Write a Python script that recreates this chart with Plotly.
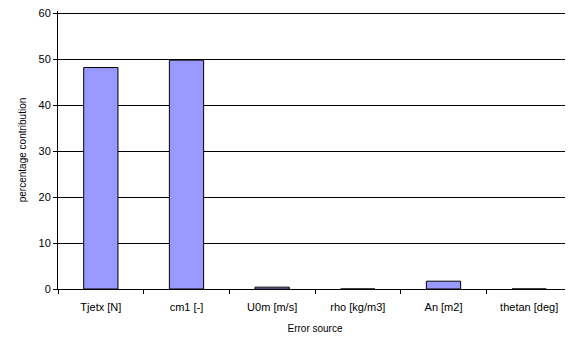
import plotly.graph_objects as go

categories = ["Tjetx [N]", "cm1 [-]", "U0m [m/s]", "rho [kg/m3]", "An [m2]", "thetan [deg]"]
values = [48.2, 49.8, 0.4, 0.0, 1.7, 0.0]
y_ticks = [0, 10, 20, 30, 40, 50, 60]

fig = go.Figure()
fig.add_trace(go.Bar(
    x=categories, y=values,
    marker=dict(color="#9999FF", line=dict(color="black", width=1)),
    width=0.4,
))

font = dict(family="Liberation Sans, Arial, sans-serif", size=11, color="black")
fig.update_layout(
    width=565, height=329,
    margin=dict(l=50, r=1, t=3, b=48),
    paper_bgcolor="white", plot_bgcolor="white",
    font=font,
    showlegend=False,
    xaxis=dict(
        title=dict(text="Error source", font=dict(size=10), standoff=12),
        showline=True, linecolor="black", linewidth=1,
        ticks="outside", tickson="boundaries", ticklen=4, tickcolor="black",
        ticklabelstandoff=8,
        showgrid=False, automargin=False,
    ),
    yaxis=dict(
        title=dict(text="percentage contribution", font=dict(size=10), standoff=10),
        range=[0, 60.5], tickvals=y_ticks,
        showline=True, linecolor="black", linewidth=1,
        ticks="outside", ticklen=4, tickcolor="black",
        ticklabeloverflow="allow",
        showgrid=True, gridcolor="black", gridwidth=1,
        zeroline=False, automargin=False,
    ),
)
fig.write_html("out.html")
